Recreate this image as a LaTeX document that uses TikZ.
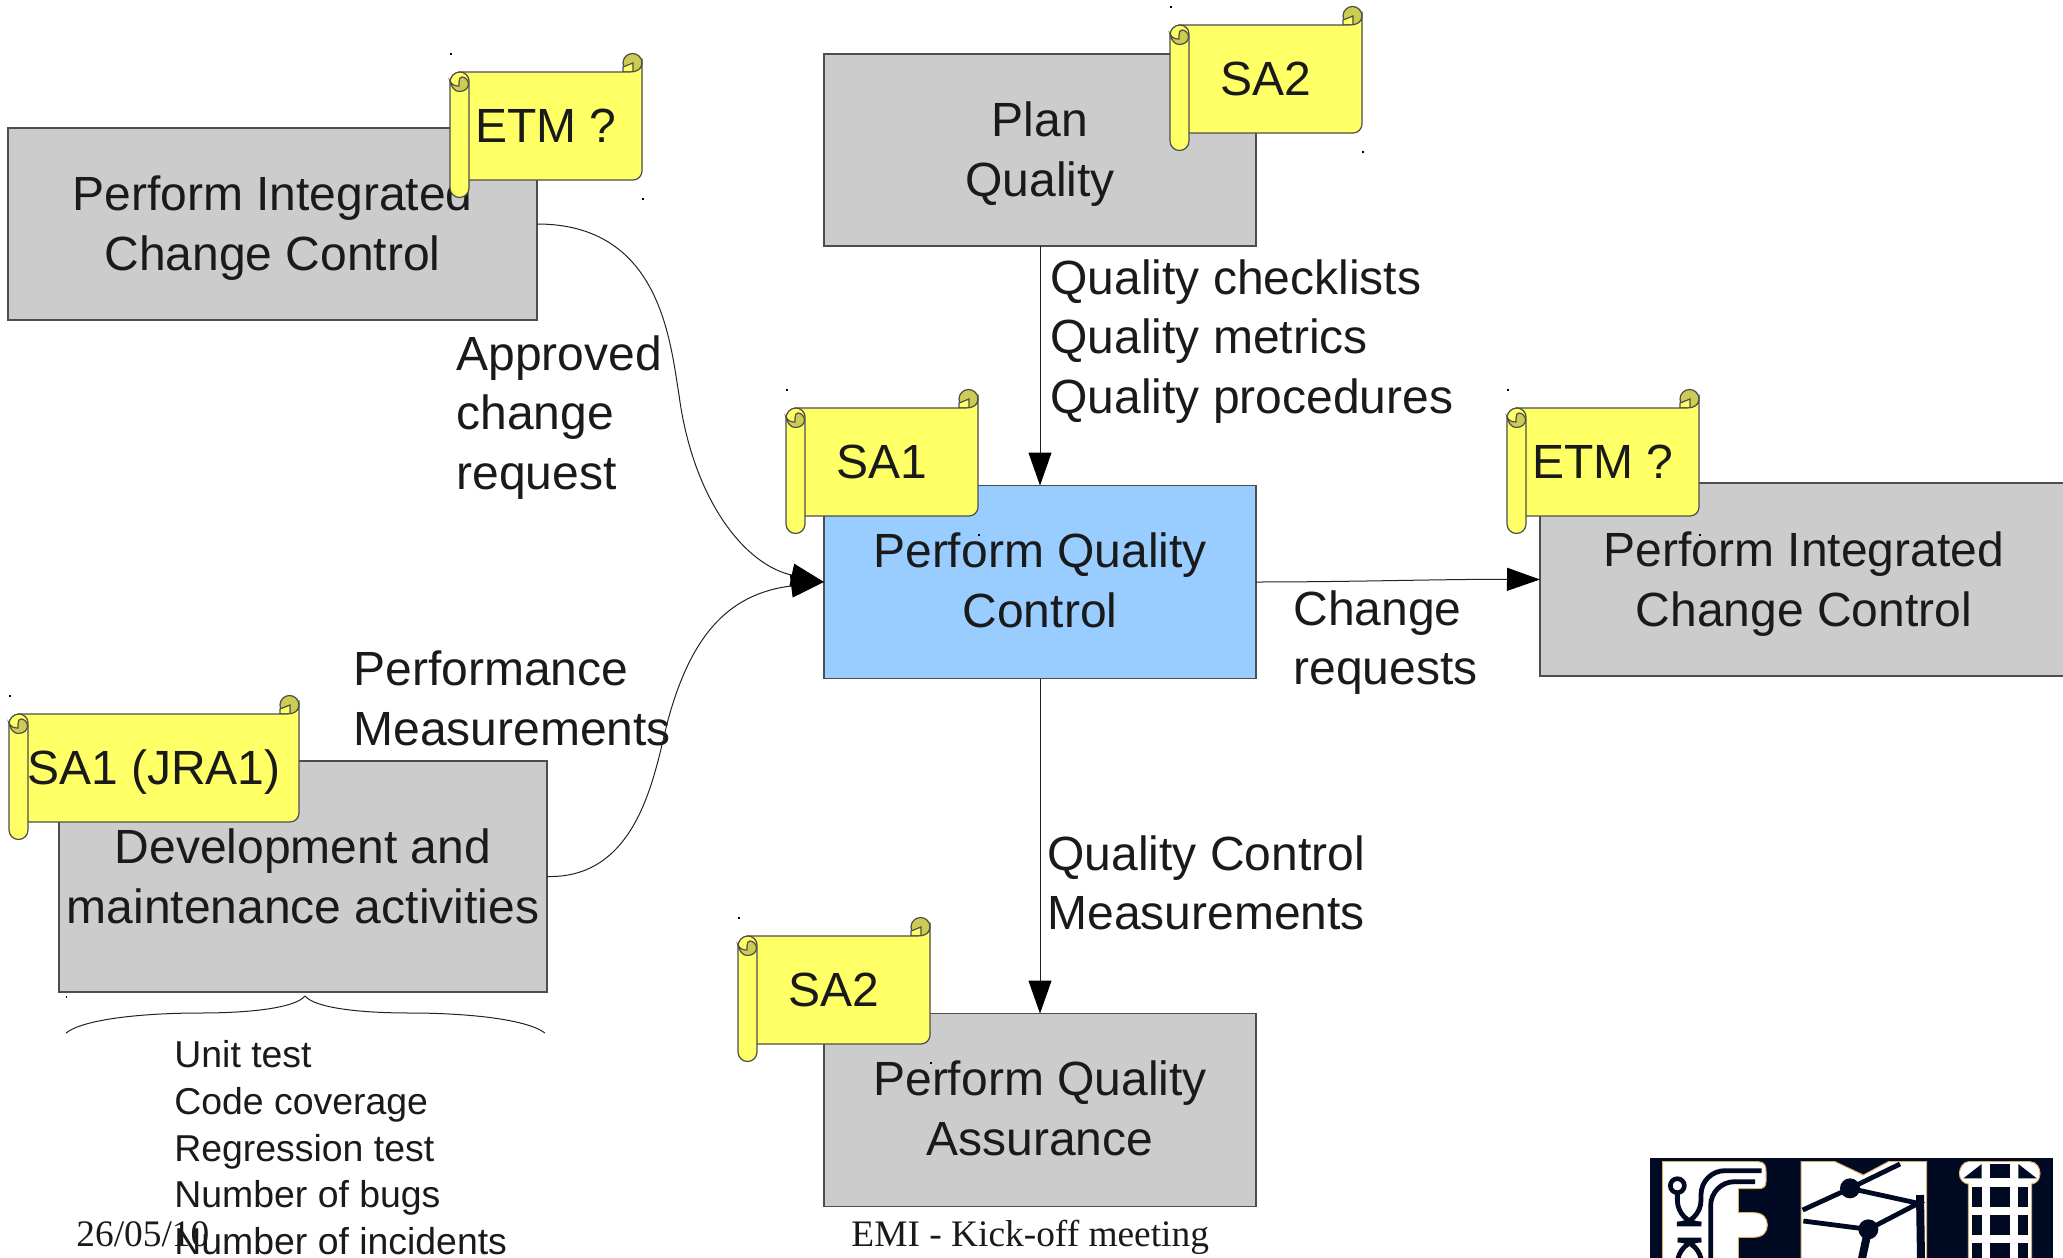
\documentclass[tikz,border=0pt]{standalone}
\usepackage{fontspec}
\setmainfont{Liberation Sans}
\newfontfamily\serifft{Liberation Serif}
\usetikzlibrary{arrows.meta}
\definecolor{boxgray}{HTML}{CCCCCC}
\definecolor{boxblue}{HTML}{99CCFF}
\definecolor{scrollyel}{HTML}{FFFF66}
\definecolor{scrolldark}{HTML}{CCCC52}
\definecolor{inkc}{HTML}{1A1A1A}
\definecolor{edgec}{HTML}{4D4D4D}
\definecolor{connc}{HTML}{222222}
\definecolor{logonavy}{HTML}{000A22}
\definecolor{logotan}{HTML}{D8B070}
\tikzset{
  procbox/.style={draw=edgec,line width=0.7pt,inner sep=0pt,outer sep=0pt,align=center,text=inkc,
    font=\fontsize{24}{30}\selectfont},
  lbl/.style={anchor=base west,inner sep=0pt,align=left,text=inkc,font=\fontsize{24}{30}\selectfont},
  smalllbl/.style={anchor=base west,inner sep=0pt,text=inkc,font=\fontsize{18.7}{23}\selectfont},
  footlbl/.style={anchor=base west,inner sep=0pt,text=inkc,font=\serifft\fontsize{18.7}{22}\selectfont},
  conn/.style={draw=connc,line width=0.5pt},
  arr/.style={conn,-{Triangle[length=16.5pt,width=11.5pt,black]}},
  scrollln/.style={draw=edgec,line width=0.6pt},
  scrolltxt/.style={anchor=base,text=inkc,inner sep=0pt,font=\fontsize{24}{30}\selectfont},
}
\newcommand{\downstrut}{\rule{0pt}{21.5pt}}
\newcommand{\upstrut}{\rule[-1.5pt]{0pt}{1pt}}
\newcommand{\scrollbox}[5]{%
  \begin{scope}[shift={(#2,#3)}]
    \fill[black] (0,0) rectangle (2,2);
    \fill[black] (#4,145) rectangle (#4+2,147);
    % upper right curl
    \filldraw[scrollln,fill=scrolldark] (#4-9.5,10) circle (9.5);
    \filldraw[scrollln,fill=scrollyel] (#4-19,19) -- (#4-19,14) -- (#4-9,10) -- (#4-9,19) -- cycle;
    % banner
    \filldraw[scrollln,fill=scrollyel] (9,19) -- (#4-12,19) .. controls (#4-5,19) and (#4,16) .. (#4,10)
       -- (#4,118) arc[start angle=0,end angle=90,radius=9] -- (9,127) -- cycle;
    % column
    \filldraw[scrollln,fill=scrollyel] (0,29) arc[start angle=180,end angle=270,radius=10]
       arc[start angle=270,end angle=360,radius=9] -- (19,135) arc[start angle=0,end angle=180,radius=9.5] -- cycle;
    \filldraw[scrollln,fill=scrolldark] (0,28) .. controls (1,34) and (5,38.5) .. (9,38.5)
       .. controls (15,38.5) and (18.5,35) .. (18.5,31) .. controls (18.5,27) and (15,24) .. (12,24)
       .. controls (10,24) and (9,26) .. (9,29) -- (9,33) .. controls (5,33) and (2,32) .. (0,28) -- cycle;
    \node[scrolltxt] (#1) at (#4/2,89) {#5};
  \end{scope}}
\begin{document}
\begin{tikzpicture}[x=0.5pt,y=-0.5pt]
\path[use as bounding box,clip] (0,0) rectangle (2063,1258);
% process boxes
\node[procbox,fill=boxgray,minimum width=264.5pt,minimum height=96pt] (ipcleft) at (272.5,224) {\downstrut Perform Integrated\\Change Control};
\node[procbox,fill=boxgray,minimum width=216pt,minimum height=96pt] (plan) at (1040,150) {\downstrut Plan\\Quality};
\node[procbox,fill=boxblue,minimum width=216pt,minimum height=96.5pt] (pqc) at (1040,582) {Perform Quality\\Control\upstrut};
\node[procbox,fill=boxgray,minimum width=264pt,minimum height=96.5pt] (ipcright) at (1804,579.5) {\downstrut Perform Integrated\\Change Control};
\node[procbox,fill=boxgray,minimum width=244pt,minimum height=115.5pt] (dev) at (303,876.5) {Development and\\maintenance activities};
\node[procbox,fill=boxgray,minimum width=216pt,minimum height=96.5pt] (pqa) at (1040,1110) {Perform Quality\\Assurance\upstrut};
% connectors
\coordinate (midA) at (679,395);
\coordinate (midB) at (668,720);
\draw[conn] (ipcleft.east) .. controls (660,224) and (670,340) .. (midA);
\draw[arr] (midA) .. controls (693,500) and (745,565) .. (pqc.west);
\draw[conn] (dev.east) .. controls (640,879) and (655,770) .. (midB);
\draw[arr] (midB) .. controls (690,640) and (725,594) .. (pqc.west);
\draw[arr] (plan.south) -- (pqc.north);
\draw[arr] (pqc.south) -- (pqa.north);
\draw[arr] (pqc.east) .. controls (1350,582) and (1450,579) .. (ipcright.west);
% brace
\coordinate (braceL) at (66,1033);
\coordinate (braceR) at (545,1033);
\coordinate (braceT) at (305,996);
\draw[conn] (braceL) .. controls (85,1018) and (150,1013) .. (200,1013)
   .. controls (250,1013) and (295,1008) .. (braceT)
   .. controls (315,1008) and (360,1013) .. (410,1013)
   .. controls (460,1013) and (525,1018) .. (braceR);
\fill[black] (66,996) rectangle (67,998);
% scrolls
\scrollbox{etmA}{450}{53}{192}{ETM ?}
\scrollbox{saTwoA}{1170}{6}{192}{SA2}
\scrollbox{saOne}{786}{389}{192}{SA1}
\scrollbox{etmB}{1507}{389}{192}{ETM ?}
\scrollbox{jra}{9}{695}{290}{SA1 (JRA1)}
\scrollbox{saTwoB}{738}{917}{192}{SA2}
% labels
\node[lbl] (l1a) at (456,370) {Approved};
\node[lbl] (l1b) at (456,429) {change};
\node[lbl] (l1c) at (456,489) {request};
\node[lbl] (l2a) at (1050,294) {Quality checklists};
\node[lbl] (l2b) at (1050,353) {Quality metrics};
\node[lbl] (l2c) at (1050,413) {Quality procedures};
\node[lbl] (l3a) at (1293,625) {Change};
\node[lbl] (l3b) at (1293,684) {requests};
\node[lbl] (l4a) at (353,685) {Performance};
\node[lbl] (l4b) at (353,745) {Measurements};
\node[lbl] (l5a) at (1047,870) {Quality Control};
\node[lbl] (l5b) at (1047,929) {Measurements};
\node[smalllbl] (s1) at (174,1067) {Unit test};
\node[smalllbl] (s2) at (174,1114) {Code coverage};
\node[smalllbl] (s3) at (174,1161) {Regression test};
\node[smalllbl] (s4) at (174,1207) {Number of bugs};
\node[smalllbl] (s5) at (174,1254) {Number of incidents};
\node[footlbl] (f1) at (76,1246) {26/05/10};
\node[footlbl] (f2) at (851,1246) {EMI - Kick-off meeting};
% logo
\fill[logonavy] (1650,1158) rectangle (2053,1260);
\begin{scope}[shift={(1620,1140)},x=0.16667pt,y=-0.16667pt]
  % left glyph
  \filldraw[draw=logotan,line width=0.5pt,fill=white] (128,65) -- (415,65) .. controls (435,65) and (438,80) .. (438,95)
     -- (438,125) .. controls (438,140) and (430,146) .. (415,146) -- (355,146) -- (355,218) -- (400,218)
     .. controls (430,218) and (442,235) .. (442,255) .. controls (442,275) and (430,292) .. (400,292)
     -- (355,292) -- (355,360) -- (128,360) -- cycle;
  \draw[logonavy,line width=2.3pt] (172,137) circle (21);
  \draw[logonavy,line width=2.4pt,rounded corners=12pt] (172,160) -- (172,252) -- (243,252) -- (243,92) -- (425,92);
  \draw[logonavy,line width=2.4pt,rounded corners=12pt] (272,360) -- (272,125) -- (405,125);
  \draw[logonavy,line width=2.4pt,rounded corners=12pt] (172,360) -- (172,300) -- (245,300) -- (245,360);
  % middle glyph
  \filldraw[draw=logotan,line width=0.5pt,fill=white] (543,65) -- (645,65) -- (730,105) -- (805,65) -- (920,65) -- (920,360) -- (543,360) -- cycle;
  \draw[logonavy,line width=2.4pt] (548,210) -- (690,145) -- (840,72);
  \draw[logonavy,line width=2.4pt] (690,145) -- (895,190) -- (745,268);
  \draw[logonavy,line width=2.4pt] (550,243) -- (745,268);
  \draw[logonavy,line width=4pt] (745,268) -- (725,360);
  \draw[logonavy,line width=4pt] (900,165) -- (903,360);
  \fill[logonavy] (690,145) circle (30);
  \fill[logonavy] (745,268) circle (30);
  % right glyph
  \filldraw[draw=logotan,line width=0.5pt,fill=white] (1045,65) -- (1230,65) .. controls (1250,65) and (1260,85) .. (1260,100)
     .. controls (1260,118) and (1250,130) .. (1235,132) -- (1235,360) -- (1045,360) -- (1045,132)
     .. controls (1030,130) and (1018,118) .. (1018,100) .. controls (1018,85) and (1030,65) .. (1045,65) -- cycle;
  \fill[logonavy] (1085,72) -- (1085,115) -- (1030,115) -- cycle;
  \fill[logonavy] (1110,72) rectangle (1170,115);
  \fill[logonavy] (1195,72) -- (1195,115) -- (1250,115) -- cycle;
  \foreach \yy/\yz in {140/200,225/285,310/360}{
    \fill[logonavy] (1055,\yy) rectangle (1085,\yz);
    \fill[logonavy] (1110,\yy) rectangle (1170,\yz);
    \fill[logonavy] (1195,\yy) rectangle (1225,\yz);
  }
\end{scope}
\end{tikzpicture}
\end{document}
